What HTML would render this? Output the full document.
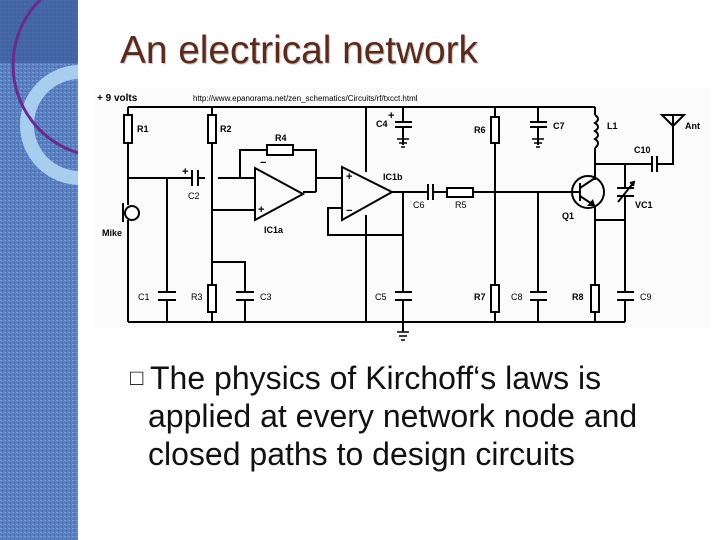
<!DOCTYPE html>
<html><head><meta charset="utf-8"><style>
body{margin:0;width:720px;height:540px;background:#fff;position:relative;overflow:hidden;font-family:"Liberation Sans",sans-serif}
.strip{position:absolute;left:0;top:0;width:78px;height:540px;background:#5b80c2;overflow:hidden}
.title{position:absolute;left:120px;top:29px;font-size:38.8px;color:#5b2a1c;text-shadow:1px 1px 1px #bbb;white-space:nowrap}
.txt{position:absolute;left:148px;top:359px;font-size:32px;line-height:38px;color:#111;white-space:nowrap}
.b{position:absolute;left:-18px;top:0;font-size:22px}
.l1{padding-left:2px}
</style></head><body>
<div class="strip">
<svg width="78" height="540">
<defs><pattern id="p" width="4" height="4" patternUnits="userSpaceOnUse"><rect width="4" height="4" fill="#5b80c2"/><rect width="2" height="1" fill="#7d9bd4"/><rect x="2" y="2" width="1" height="2" fill="#4a6fb0"/></pattern></defs>
<rect width="78" height="540" fill="url(#p)"/>
<rect width="78" height="63" fill="#3f5f9e" opacity="0.8"/>
<circle cx="80" cy="125" r="53" fill="none" stroke="#a9cdee" stroke-width="14"/>
<circle cx="105" cy="65" r="92" fill="none" stroke="#6a2c8c" stroke-width="3"/>
</svg></div>
<div class="title">An electrical network</div>
<svg style="position:absolute;left:0;top:0" width="720" height="540" font-family="Liberation Sans" font-size="9" font-weight="bold" fill="#000">
<rect x="95" y="88" width="615" height="240" fill="#fbfbfb"/>
<text x="97" y="101" font-size="10">+ 9 volts</text>
<text x="193" y="101" font-size="8" font-weight="normal">http://www.epanorama.net/zen_schematics/Circuits/rf/txcct.html</text>
<g stroke="#000" stroke-width="2" fill="none">
<path d="M128 107H595M128 322H625"/>
<path d="M128 107V205M128 220V322M128 178H192M167 178V292M167 300V322"/>
<path d="M158 292H176M158 300H176"/>
<path d="M198 178H205M192 170V186M198 170V186"/>
<path d="M212 107V322M212 262H245V292M245 300V322M236 292H254M236 300H254"/>
<path d="M212 210H255M218 178H255M240 178V150H316V192M303 192H316M316 178H342"/>
<path d="M255 168V220L303 194Z"/>
<path d="M342 167V220L392 192Z"/>
<path d="M342 208H328V235H403M366 107V172M366 215V322M392 192H428M433 192H447M473 192H580"/>
<path d="M428 184V200M433 184V200"/>
<path d="M403 107V122M395 122H412M395 127H412M403 127V145M403 192V292M395 292H412M395 300H412M403 300V332"/>
<path d="M495 107V322M538 107V122M530 122H547M530 127H547M538 127V145M538 192V292M530 292H547M530 300H547M538 300V322"/>
<path d="M595 107V115M595 148V180M595 205V322M595 164H652M657 164H673V115M595 220H625M625 164V188M625 196V292M617 292H634M617 300H634M625 300V322"/>
<path d="M652 156V172M657 156V172M617 188H634M617 196H634M618 202L634 182M630 183L634 182L633 186"/>
<path d="M595 115q6 4 0 8q6 4 0 8q6 4 0 8q6 4 0 9"/>
<path d="M662 115H684L673 126Z"/>
<circle cx="588" cy="192" r="16"/>
<path d="M580 183V201M580 188L595 178M580 196L595 206"/>
<path d="M123 203V222"/>
</g>
<g stroke="#000" stroke-width="1.6" fill="none">
<path d="M397 139H409M399 143H407M401 147H405M532 139H544M534 143H542M536 147H540M397 332H409M399 336H407M401 340H405"/>
</g>
<circle cx="132" cy="213" r="7" fill="none" stroke="#000" stroke-width="2"/>
<g fill="#fff" stroke="#000" stroke-width="2">
<rect x="124" y="115" width="8" height="28"/><rect x="208" y="115" width="8" height="28"/>
<rect x="208" y="285" width="8" height="27"/><rect x="267" y="145" width="26" height="10"/>
<rect x="447" y="188" width="26" height="9"/><rect x="491" y="117" width="8" height="26"/>
<rect x="491" y="285" width="8" height="27"/><rect x="591" y="285" width="8" height="27"/>
</g>
<path d="M587 206L595 206L593 199Z" fill="#000"/>
<text x="137" y="132">R1</text><text x="220" y="132">R2</text><text x="275" y="141">R4</text>
<text x="102" y="236">Mike</text><text x="188" y="199" font-weight="normal">C2</text>
<text x="260" y="166" font-size="11">−</text><text x="258" y="213" font-size="11">+</text>
<text x="346" y="180" font-size="11">+</text><text x="346" y="214" font-size="11">−</text>
<text x="264" y="233">IC1a</text><text x="383" y="180">IC1b</text>
<text x="138" y="300" font-weight="normal">C1</text><text x="191" y="300" font-weight="normal">R3</text><text x="260" y="300" font-weight="normal">C3</text>
<text x="376" y="127">C4</text><text x="388" y="119" font-size="11">+</text><text x="182" y="175" font-size="11">+</text>
<text x="375" y="300" font-weight="normal">C5</text><text x="413" y="208" font-weight="normal">C6</text><text x="455" y="208" font-weight="normal">R5</text>
<text x="474" y="133">R6</text><text x="553" y="129">C7</text><text x="607" y="129">L1</text><text x="685" y="129">Ant</text>
<text x="634" y="153">C10</text><text x="635" y="208">VC1</text><text x="562" y="219">Q1</text>
<text x="474" y="300">R7</text><text x="511" y="300" font-weight="normal">C8</text><text x="572" y="300">R8</text><text x="640" y="300" font-weight="normal">C9</text>
</svg>
<div class="txt"><span class="b">□</span><span class="l1">The physics of Kirchoff‘s laws is</span><br>applied at every network node and<br>closed paths to design circuits</div>
</body></html>
